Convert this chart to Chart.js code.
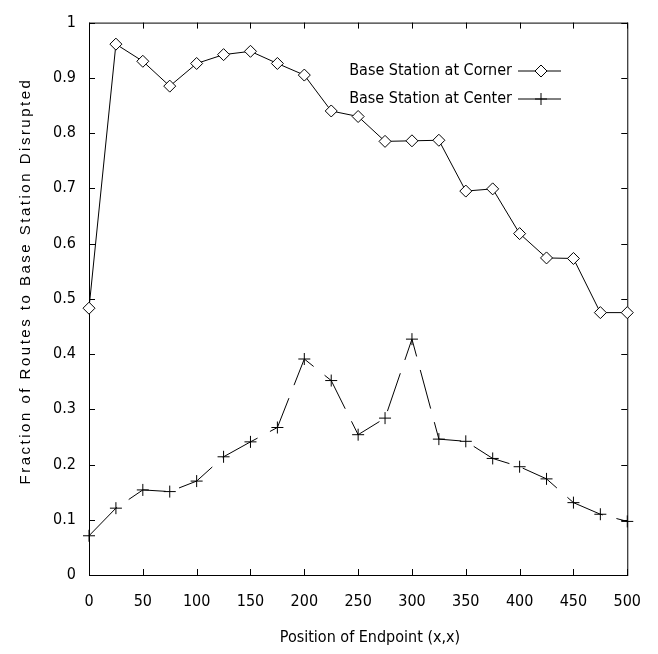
<!DOCTYPE html>
<html>
<head>
<meta charset="utf-8">
<script src="https://cdn.jsdelivr.net/npm/chart.js@4/dist/chart.umd.min.js"></script>
<style>
  html, body { margin: 0; padding: 0; background: #fff; }
  #wrap { width: 658px; height: 654px; }
</style>
</head>
<body>
<div id="wrap"><canvas id="c"></canvas></div>
<script>
const positions = [0, 25, 50, 75, 100, 125, 150, 175, 200, 225, 250, 275, 300, 325, 350, 375, 400, 425, 450, 475, 500];
const cornerValues = [0.483, 0.961, 0.930, 0.885, 0.926, 0.942, 0.948, 0.926, 0.905, 0.840, 0.830, 0.785, 0.786, 0.787, 0.695, 0.699, 0.618, 0.574, 0.573, 0.475, 0.475];
const centerValues = [0.071, 0.121, 0.154, 0.151, 0.170, 0.214, 0.241, 0.267, 0.391, 0.352, 0.254, 0.284, 0.427, 0.246, 0.242, 0.211, 0.196, 0.174, 0.131, 0.110, 0.097];
const seriesNames = ['Base Station at Corner', 'Base Station at Center'];
const xTicks = [0, 50, 100, 150, 200, 250, 300, 350, 400, 450, 500];
const yTicks = [0, 0.1, 0.2, 0.3, 0.4, 0.5, 0.6, 0.7, 0.8, 0.9, 1];

const narrow = '"Liberation Sans Narrow", "DejaVu Sans Condensed", "Liberation Sans", Arial, sans-serif';

// box, inward ticks on all sides, gnuplot-style key, axis titles
const framePlugin = {
  id: 'frame',
  beforeDatasetsDraw(chart) {
    const { ctx, chartArea: a, scales } = chart;
    ctx.save();
    ctx.strokeStyle = '#000';
    ctx.lineWidth = 1;
    ctx.strokeRect(a.left + 0.5, a.top + 0.5, a.right - a.left, a.bottom - a.top);
    ctx.beginPath();
    xTicks.forEach(v => {
      const x = Math.round(scales.x.getPixelForValue(v)) + 0.5;
      ctx.moveTo(x, a.bottom); ctx.lineTo(x, a.bottom - 6);
      ctx.moveTo(x, a.top); ctx.lineTo(x, a.top + 6);
    });
    yTicks.forEach(v => {
      const y = Math.round(scales.y.getPixelForValue(v)) + 0.5;
      ctx.moveTo(a.left, y); ctx.lineTo(a.left + 6, y);
      ctx.moveTo(a.right, y); ctx.lineTo(a.right - 6, y);
    });
    ctx.stroke();
    ctx.restore();
  },
  afterDatasetsDraw(chart) {
    const { ctx } = chart;
    ctx.save();
    ctx.strokeStyle = '#000';
    ctx.lineWidth = 1;
    ctx.setLineDash([]);

    // key
    ctx.font = '16px ' + narrow;
    ctx.fillStyle = '#000';
    ctx.textAlign = 'right';
    ctx.textBaseline = 'middle';
    const keyRows = [71, 99];
    chart.data.datasets.forEach((ds, i) => {
      const y = keyRows[i];
      ctx.fillText(ds.label, 512, y);
      ctx.beginPath();
      ctx.moveTo(518, y); ctx.lineTo(561, y);
      ctx.stroke();
      const cx = 541;
      ctx.beginPath();
      if (i === 0) {
        ctx.moveTo(cx, y - 6); ctx.lineTo(cx + 6, y); ctx.lineTo(cx, y + 6); ctx.lineTo(cx - 6, y); ctx.closePath();
        ctx.fillStyle = '#fff'; ctx.fill(); ctx.stroke(); ctx.fillStyle = '#000';
      } else {
        ctx.moveTo(cx, y - 6); ctx.lineTo(cx, y + 6);
        ctx.moveTo(cx - 6, y); ctx.lineTo(cx + 6, y);
        ctx.stroke();
      }
    });

    // x title
    ctx.textAlign = 'center';
    ctx.fillText('Position of Endpoint (x,x)', 370, 638);

    // y title
    ctx.save();
    ctx.translate(26, 281);
    ctx.rotate(-Math.PI / 2);
    ctx.font = '15px "Liberation Sans", Arial, sans-serif';
    ctx.letterSpacing = '2.5px';
    ctx.textAlign = 'center';
    ctx.textBaseline = 'middle';
    ctx.fillText('Fraction of Routes to Base Station Disrupted', 0, 0);
    ctx.restore();
    ctx.restore();
  }
};

new Chart(document.getElementById('c'), {
  type: 'line',
  data: {
    datasets: [
      {
        label: seriesNames[0],
        data: positions.map((p, i) => ({ x: p, y: cornerValues[i] })),
        borderColor: '#000',
        borderWidth: 1,
        pointStyle: 'rectRot',
        pointRadius: 6,
        pointBackgroundColor: '#fff',
        pointBorderColor: '#000',
        pointBorderWidth: 1,
        tension: 0,
        clip: false
      },
      {
        label: seriesNames[1],
        data: positions.map((p, i) => ({ x: p, y: centerValues[i] })),
        borderColor: '#000',
        borderWidth: 1,
        borderDash: [40, 14],
        pointStyle: 'cross',
        pointRadius: 6,
        pointBorderColor: '#000',
        pointBorderWidth: 1,
        tension: 0,
        clip: false
      }
    ]
  },
  options: {
    responsive: true,
    maintainAspectRatio: false,
    animation: false,
    layout: { padding: { top: 15, right: 28, left: 0, bottom: 0 } },
    plugins: { legend: { display: false }, tooltip: { enabled: false } },
    scales: {
      x: {
        type: 'linear',
        min: 0, max: 500,
        afterBuildTicks: s => { s.ticks = xTicks.map(v => ({ value: v })); },
        afterFit: s => { s.height = 79; },
        grid: { display: false, drawTicks: false },
        border: { display: false },
        ticks: { color: '#000', padding: 17, maxRotation: 0, font: { family: narrow, size: 16 } }
      },
      y: {
        min: 0, max: 1,
        afterBuildTicks: s => { s.ticks = yTicks.map(v => ({ value: v })); },
        afterFit: s => { s.width = 89; },
        grid: { display: false, drawTicks: false },
        border: { display: false },
        ticks: { color: '#000', padding: 13, font: { family: narrow, size: 16 }, callback: v => String(v) }
      }
    }
  },
  plugins: [framePlugin]
});
</script>
</body>
</html>
